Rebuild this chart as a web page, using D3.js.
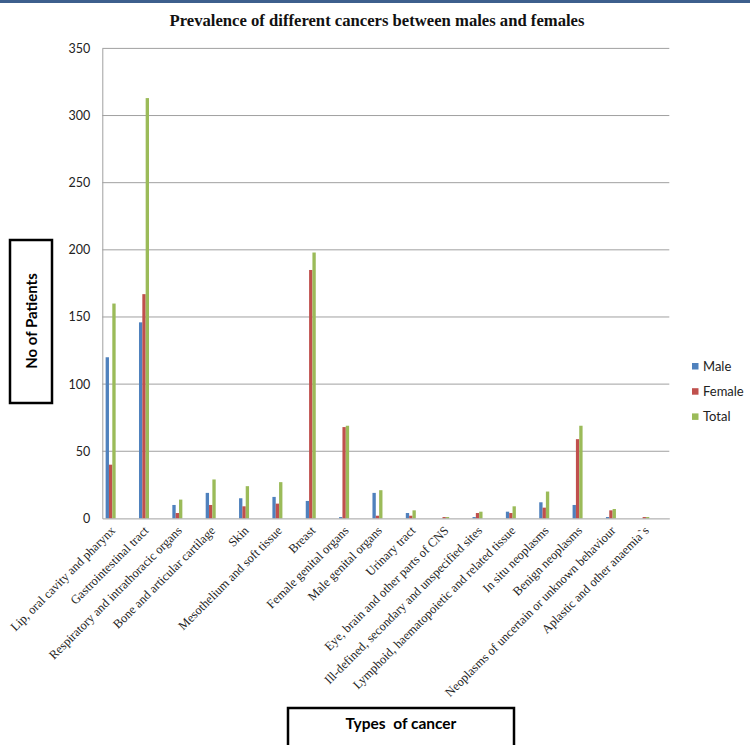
<!DOCTYPE html>
<html>
<head>
<meta charset="utf-8">
<script src="https://cdn.jsdelivr.net/npm/d3@7"></script>
<style>
    body { margin: 0; background: #fff; }
    svg { display: block; }
</style>
</head>
<body>
<div class="chart"></div>
<script>
const categories = [
    "Lip, oral cavity and pharynx",
    "Gastrointestinal tract",
    "Respiratory and intrathoracic organs",
    "Bone and articular cartilage",
    "Skin",
    "Mesothelium and soft tissue",
    "Breast",
    "Female genital organs",
    "Male genital organs",
    "Urinary tract",
    "Eye, brain and other parts of CNS",
    "Ill-defined, secondary and unspecified sites",
    "Lymphoid, haematopoietic and related tissue",
    "In situ neoplasms",
    "Benign neoplasms",
    "Neoplasms of uncertain or unknown behaviour",
    "Aplastic  and other anaemia`s"
]
const seriesNames = ["Male", "Female", "Total"]
const male   = [120, 146, 10, 19, 15, 16, 13, 1, 19, 4, 0, 1, 5, 12, 10, 1, 0]
const female = [40, 167, 4, 10, 9, 11, 185, 68, 2, 2, 1, 4, 4, 8, 59, 6, 1]
const total  = [160, 313, 14, 29, 24, 27, 198, 69, 21, 6, 1, 5, 9, 20, 69, 7, 1]
const yTicks = [0, 50, 100, 150, 200, 250, 300, 350]

const colors = ["#4F81BD", "#C0504D", "#9BBB59"]
const values = [male, female, total]

const width = 750
const height = 745
const plot = { left: 102.3, right: 669.3, top: 48.4, bottom: 518.4 }

const svg = d3.select('.chart').append("svg")
    .attr("width", width)
    .attr("height", height)

// thin blue band across the top of the picture
svg.append("rect")
    .attr("x", 0).attr("y", 0)
    .attr("width", width).attr("height", 3)
    .attr("fill", "#3d5f8d")

svg.append("text")
    .attr("x", 377)
    .attr("y", 25.5)
    .attr("text-anchor", "middle")
    .attr("font-family", "Liberation Serif")
    .attr("font-weight", "bold")
    .attr("font-size", 16.5)
    .attr("textLength", 415)
    .attr("lengthAdjust", "spacingAndGlyphs")
    .attr("fill", "#111")
    .text("Prevalence of different cancers between males and females")

const y = d3.scaleLinear()
    .domain([0, 350])
    .range([plot.bottom, plot.top])

const x0 = d3.scaleBand()
    .domain(categories)
    .range([plot.left, plot.right])
    .padding(0)

const bw = x0.bandwidth()
const x1 = d3.scaleBand()
    .domain(seriesNames)
    .range([bw * 0.1, bw * 0.4])

// gridlines
svg.append("g")
    .selectAll("line")
    .data(yTicks.filter(d => d > 0))
    .enter()
    .append("line")
    .attr("x1", plot.left)
    .attr("x2", plot.right)
    .attr("y1", d => y(d))
    .attr("y2", d => y(d))
    .attr("stroke", "#a0a0a0")
    .attr("stroke-width", 1)

// y axis
const yAxis = svg.append("g")
    .attr("transform", `translate(${plot.left},0)`)
    .call(d3.axisLeft(y).tickValues(yTicks).tickSize(0).tickPadding(12))
yAxis.select(".domain").attr("stroke", "#a0a0a0")
yAxis.selectAll("text")
    .attr("font-family", "Lato")
    .attr("font-size", 12.5)
    .attr("fill", "#222")

// bars
const groups = svg.append("g")
    .selectAll("g")
    .data(categories)
    .enter()
    .append("g")
    .attr("transform", d => `translate(${x0(d)},0)`)

groups.selectAll("rect")
    .data((d, i) => seriesNames.map((s, k) => ({ s: s, v: values[k][i], c: colors[k] })))
    .enter()
    .append("rect")
    .attr("x", d => x1(d.s))
    .attr("width", x1.bandwidth())
    .attr("y", d => y(d.v))
    .attr("height", d => y(0) - y(d.v))
    .attr("fill", d => d.c)

// x axis line
const xAxis = svg.append("g")
    .attr("transform", `translate(0,${plot.bottom})`)
    .call(d3.axisBottom(x0).tickSize(0).tickFormat(""))
xAxis.select(".domain").attr("stroke", "#a0a0a0")

// category labels
svg.append("g")
    .selectAll("text")
    .data(categories)
    .enter()
    .append("text")
    .attr("transform", d => `translate(${x0(d) + bw / 2 - 3},${plot.bottom + 13}) rotate(-45)`)
    .attr("text-anchor", "end")
    .attr("font-family", "Liberation Serif")
    .attr("font-size", 12.5)
    .attr("fill", "#222")
    .text(d => d)

// legend
const legend = svg.append("g")
    .selectAll("g")
    .data(seriesNames)
    .enter()
    .append("g")
    .attr("transform", (d, i) => `translate(692,${366.5 + i * 25.2})`)
legend.append("rect")
    .attr("x", 0).attr("y", -3.5)
    .attr("width", 6.5).attr("height", 6.5)
    .attr("fill", (d, i) => colors[i])
legend.append("text")
    .attr("x", 11)
    .attr("y", 0)
    .attr("dy", "0.35em")
    .attr("font-family", "Lato")
    .attr("font-size", 13)
    .attr("fill", "#222")
    .text(d => d)

// axis title boxes
svg.append("rect")
    .attr("x", 10).attr("y", 240)
    .attr("width", 42).attr("height", 163)
    .attr("fill", "none")
    .attr("stroke", "#000")
    .attr("stroke-width", 2.5)
svg.append("text")
    .attr("transform", "translate(37,321) rotate(-90)")
    .attr("text-anchor", "middle")
    .attr("font-family", "Lato")
    .attr("font-weight", "bold")
    .attr("font-size", 15)
    .text("No of Patients")

svg.append("rect")
    .attr("x", 288).attr("y", 708)
    .attr("width", 226).attr("height", 60)
    .attr("fill", "none")
    .attr("stroke", "#000")
    .attr("stroke-width", 2.5)
svg.append("text")
    .attr("x", 401)
    .attr("y", 729)
    .attr("text-anchor", "middle")
    .attr("font-family", "Lato")
    .attr("font-weight", "bold")
    .attr("font-size", 15.5)
    .attr("xml:space", "preserve")
    .style("white-space", "pre")
    .text("Types  of cancer")
</script>
</body>
</html>
